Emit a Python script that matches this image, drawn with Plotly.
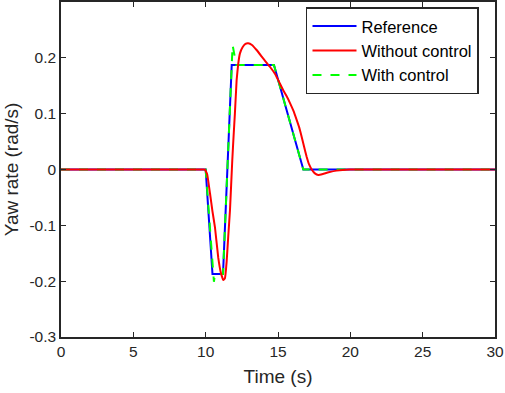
import plotly.graph_objects as go

# Reference yaw rate (piecewise)
ref_t = [0, 10, 10.47, 11.2, 11.8, 14.72, 16.75, 30]
ref_y = [0, 0, -0.187, -0.187, 0.187, 0.187, 0, 0]

# Without control
noc_t = [0, 9.0, 9.8, 9.95, 10.1, 10.3, 10.47, 10.64, 10.87, 11.05, 11.22, 11.33, 11.45, 11.56,
         11.68, 11.84, 11.93, 12.02, 12.14, 12.25, 12.37, 12.55, 12.75, 12.94, 13.2, 13.52,
         14.0, 14.44, 14.8, 15.13, 15.36, 15.6, 15.83, 16.07, 16.29, 16.47, 16.63, 16.8,
         16.98, 17.15, 17.33, 17.55, 17.79, 18.1, 18.5, 19.05, 19.97, 20.5, 21.5, 30]
noc_y = [0, 0, 0, 0, -0.008, -0.043, -0.075, -0.103, -0.158, -0.185, -0.198, -0.195, -0.165,
         -0.12, -0.073, 0.017, 0.06, 0.10, 0.16, 0.189, 0.208, 0.219, 0.225, 0.226, 0.223,
         0.214, 0.198, 0.184, 0.171, 0.154, 0.142, 0.131, 0.119, 0.105, 0.089, 0.075, 0.059,
         0.041, 0.023, 0.009, 0.0, -0.007, -0.0099, -0.008, -0.005, -0.002, 0, 0, 0, 0]

# With control
wc_t = [0, 10, 10.57, 10.65, 11.2, 11.8, 11.86, 12.12, 14.72, 16.75, 30]
wc_y = [0, 0, -0.201, -0.187, -0.187, 0.187, 0.223, 0.187, 0.187, 0, 0]

x_ticks = [0, 5, 10, 15, 20, 25, 30]
y_ticks = [-0.3, -0.2, -0.1, 0, 0.1, 0.2]
y_labels = ["-0.3", "-0.2", "-0.1", "0", "0.1", "0.2"]

fig = go.Figure()
fig.add_trace(go.Scatter(x=ref_t, y=ref_y, mode="lines", name="Reference", legendrank=1,
                         line=dict(color="#0000ff", width=2)))
fig.add_trace(go.Scatter(x=wc_t, y=wc_y, mode="lines", name="With control", legendrank=3,
                         line=dict(color="#00ff00", width=2, dash="dash")))
fig.add_trace(go.Scatter(x=noc_t, y=noc_y, mode="lines", name="Without control", legendrank=2,
                         line=dict(color="#ff0000", width=2, shape="spline", smoothing=0.3)))

font = "Arial, Liberation Sans, sans-serif"
axis_common = dict(showline=True, linecolor="#262626", linewidth=1.5, mirror="ticks",
                   ticks="inside", ticklen=5, tickcolor="#262626", showgrid=False,
                   zeroline=False, automargin=False,
                   tickfont=dict(family=font, size=15.5, color="#262626"))

fig.update_layout(
    width=505, height=393,
    margin=dict(l=61, r=10, t=2, b=56),
    paper_bgcolor="white", plot_bgcolor="white",
    font=dict(family=font, color="#262626"),
    xaxis=dict(range=[0, 30], tickvals=x_ticks, ticktext=[str(v) for v in x_ticks],
               title=dict(text="Time (s)", font=dict(size=19, family=font), standoff=10),
               **axis_common),
    yaxis=dict(range=[-0.3, 0.3], tickvals=y_ticks, ticktext=y_labels,
               title=dict(text="Yaw rate (rad/s)", font=dict(size=19, family=font), standoff=6),
               **axis_common),
    legend=dict(x=0.5645, y=0.984, xanchor="left", yanchor="top",
                bgcolor="white", bordercolor="#262626", borderwidth=1.5,
                font=dict(family=font, size=16.5, color="black"),
                tracegroupgap=0, itemwidth=44),
    showlegend=True,
)

fig.write_html("out.html", config={"displayModeBar": False},
               post_script="document.body.style.margin='0';document.body.style.overflow='hidden';")
